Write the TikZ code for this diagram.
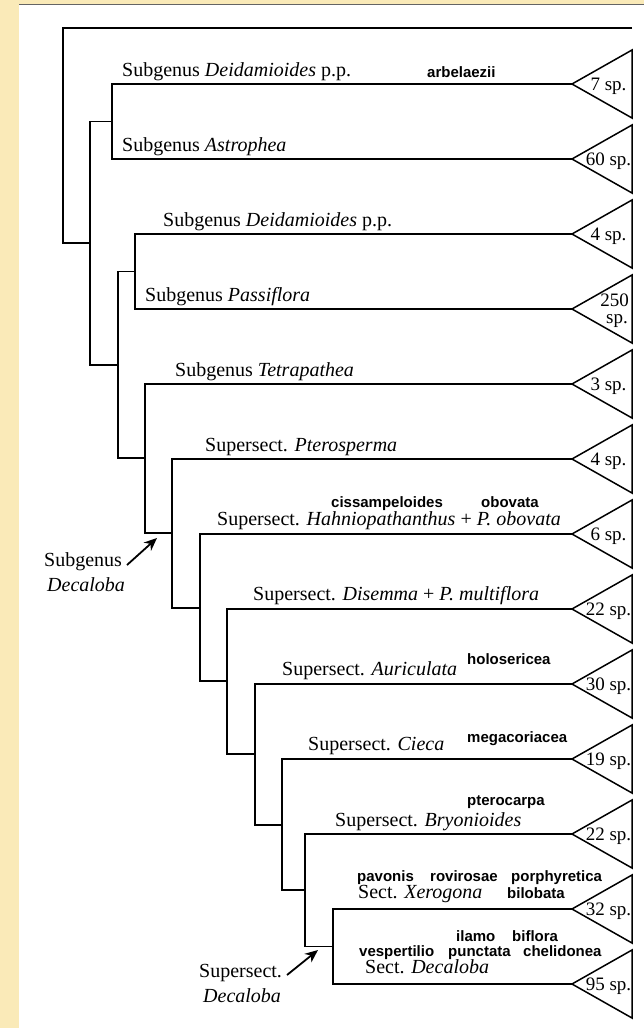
\documentclass[tikz,border=0pt]{standalone}
\usepackage{fontspec}
\setmainfont{Liberation Serif}
\newfontfamily\spfont{Liberation Sans}
\usetikzlibrary{arrows.meta}
\definecolor{bgbeige}{RGB}{250,234,184}
\definecolor{rule}{RGB}{100,100,100}
\begin{document}
\begin{tikzpicture}[x=1pt,y=-1pt,
  tree/.style={line width=1.9pt, line join=miter},
  tri/.style={line width=1.5pt, line join=miter},
  lab/.style={anchor=base west, inner sep=0pt, font=\fontsize{20}{24}\selectfont},
  spn/.style={anchor=base west, inner sep=0pt, font=\spfont\bfseries\fontsize{15}{17}\selectfont},
  cnt/.style={anchor=base, inner sep=0pt, font=\fontsize{19}{21}\selectfont},
  arr/.style={line width=1.8pt, -{Stealth[length=13pt,width=11pt]}}]
\useasboundingbox (0,0) rectangle (644,1028);
% background
\fill[bgbeige] (0,0) rectangle (19,1028);
\fill[bgbeige] (19,0) rectangle (644,4);
\draw[rule, line width=1.2pt] (19,4.6) -- (644,4.6);
% leaf tips
\foreach \k in {1,...,13} {\coordinate (t\k) at (572,{84+75*(\k-1)});}
% internal nodes
\coordinate (a) at (112,121.5);
\coordinate (b) at (135,271.5);
\coordinate (e12) at (333,946.5);
\coordinate (e11) at (305,890.25);
\coordinate (e10) at (282,824.6);
\coordinate (e9) at (255,753.8);
\coordinate (e8) at (227,681.4);
\coordinate (e7) at (200,607.7);
\coordinate (e6) at (172,532.8);
\coordinate (e5) at (145,457.9);
\coordinate (d) at (118,364.7);
\coordinate (c) at (90,243.1);
\coordinate (root) at (63,135.5);
\coordinate (out) at (632,28);
% tree
\draw[tree] (t1) -| (a) |- (t2);
\draw[tree] (t3) -| (b) |- (t4);
\draw[tree] (t12) -| (e12) |- (t13);
\draw[tree] (t11) -| (e11) |- (e12);
\draw[tree] (t10) -| (e10) |- (e11);
\draw[tree] (t9) -| (e9) |- (e10);
\draw[tree] (t8) -| (e8) |- (e9);
\draw[tree] (t7) -| (e7) |- (e8);
\draw[tree] (t6) -| (e6) |- (e7);
\draw[tree] (t5) -| (e5) |- (e6);
\draw[tree] (b) -| (d) |- (e5);
\draw[tree] (a) -| (c) |- (d);
\draw[tree] (out) -| (root) |- (c);
% triangles
\foreach \k in {1,...,13} {\draw[tri] (t\k) -- ++(60,-34) -- ++(0,68) -- cycle;}
% counts
\node[cnt] (c1) at (608.5,90.5) {7 sp.};
\node[cnt] (c2) at (608.5,165.5) {60 sp.};
\node[cnt] (c3) at (608.5,240.5) {4 sp.};
\node[cnt,anchor=base east] (c4a) at (629,306) {250};
\node[cnt,anchor=base east] (c4b) at (628,323) {sp.};
\node[cnt] (c5) at (608.5,390.5) {3 sp.};
\node[cnt] (c6) at (608.5,465.5) {4 sp.};
\node[cnt] (c7) at (608.5,540.5) {6 sp.};
\node[cnt] (c8) at (608.5,615.5) {22 sp.};
\node[cnt] (c9) at (608.5,690.5) {30 sp.};
\node[cnt] (c10) at (608.5,765.5) {19 sp.};
\node[cnt] (c11) at (608.5,840.5) {22 sp.};
\node[cnt] (c12) at (608.5,915.5) {32 sp.};
\node[cnt] (c13) at (608.5,990.5) {95 sp.};
% labels
\node[lab] (l1) at (122,76) {Subgenus \textit{Deidamioides} p.p.};
\node[spn] (s1) at (427,77) {arbelaezii};
\node[lab] (l2) at (122,151) {Subgenus \textit{Astrophea}};
\node[lab] (l3) at (163,226) {Subgenus \textit{Deidamioides} p.p.};
\node[lab] (l4) at (145,301) {Subgenus \textit{Passiflora}};
\node[lab] (l5) at (175,376) {Subgenus \textit{Tetrapathea}};
\node[lab] (l6) at (205,451) {Supersect. \textit{Pterosperma}};
\node[spn] (s7a) at (331,507) {cissampeloides};
\node[spn] (s7b) at (481,507) {obovata};
\node[lab] (l7) at (217,525) {Supersect. \textit{Hahniopathanthus} + \textit{P. obovata}};
\node[lab] (l8) at (253,600) {Supersect. \textit{Disemma} + \textit{P. multiflora}};
\node[lab] (l9) at (282,675) {Supersect. \textit{Auriculata}};
\node[spn] (s9) at (467,664) {holosericea};
\node[lab] (l10) at (308,750) {Supersect. \textit{Cieca}};
\node[spn] (s10) at (467,742) {megacoriacea};
\node[spn] (s11) at (467,805) {pterocarpa};
\node[lab] (l11) at (335,826) {Supersect. \textit{Bryonioides}};
\node[spn] (s12a) at (357,881) {pavonis};
\node[spn] (s12b) at (430,881) {rovirosae};
\node[spn] (s12c) at (511,881) {porphyretica};
\node[lab] (l12) at (358,898) {Sect. \textit{Xerogona}};
\node[spn] (s12d) at (507,898) {bilobata};
\node[spn] (s13a) at (456,941) {ilamo};
\node[spn] (s13b) at (512,941) {biflora};
\node[spn] (s13c) at (359,956) {vespertilio};
\node[spn] (s13d) at (448,956) {punctata};
\node[spn] (s13e) at (523,956) {chelidonea};
\node[lab] (l13) at (365,973) {Sect. \textit{Decaloba}};
% annotations
\node[lab] (g1) at (44,566) {Subgenus};
\node[lab] (g2) at (47,591) {\textit{Decaloba}};
\coordinate (g1s) at (127,565);
\coordinate (g1e) at (157,538);
\draw[arr] (g1s) -- (g1e);
\node[lab] (h1) at (199,977) {Supersect.};
\node[lab] (h2) at (203,1002) {\textit{Decaloba}};
\coordinate (h1s) at (287,975);
\coordinate (h1e) at (318,950);
\draw[arr] (h1s) -- (h1e);
\end{tikzpicture}
\end{document}
